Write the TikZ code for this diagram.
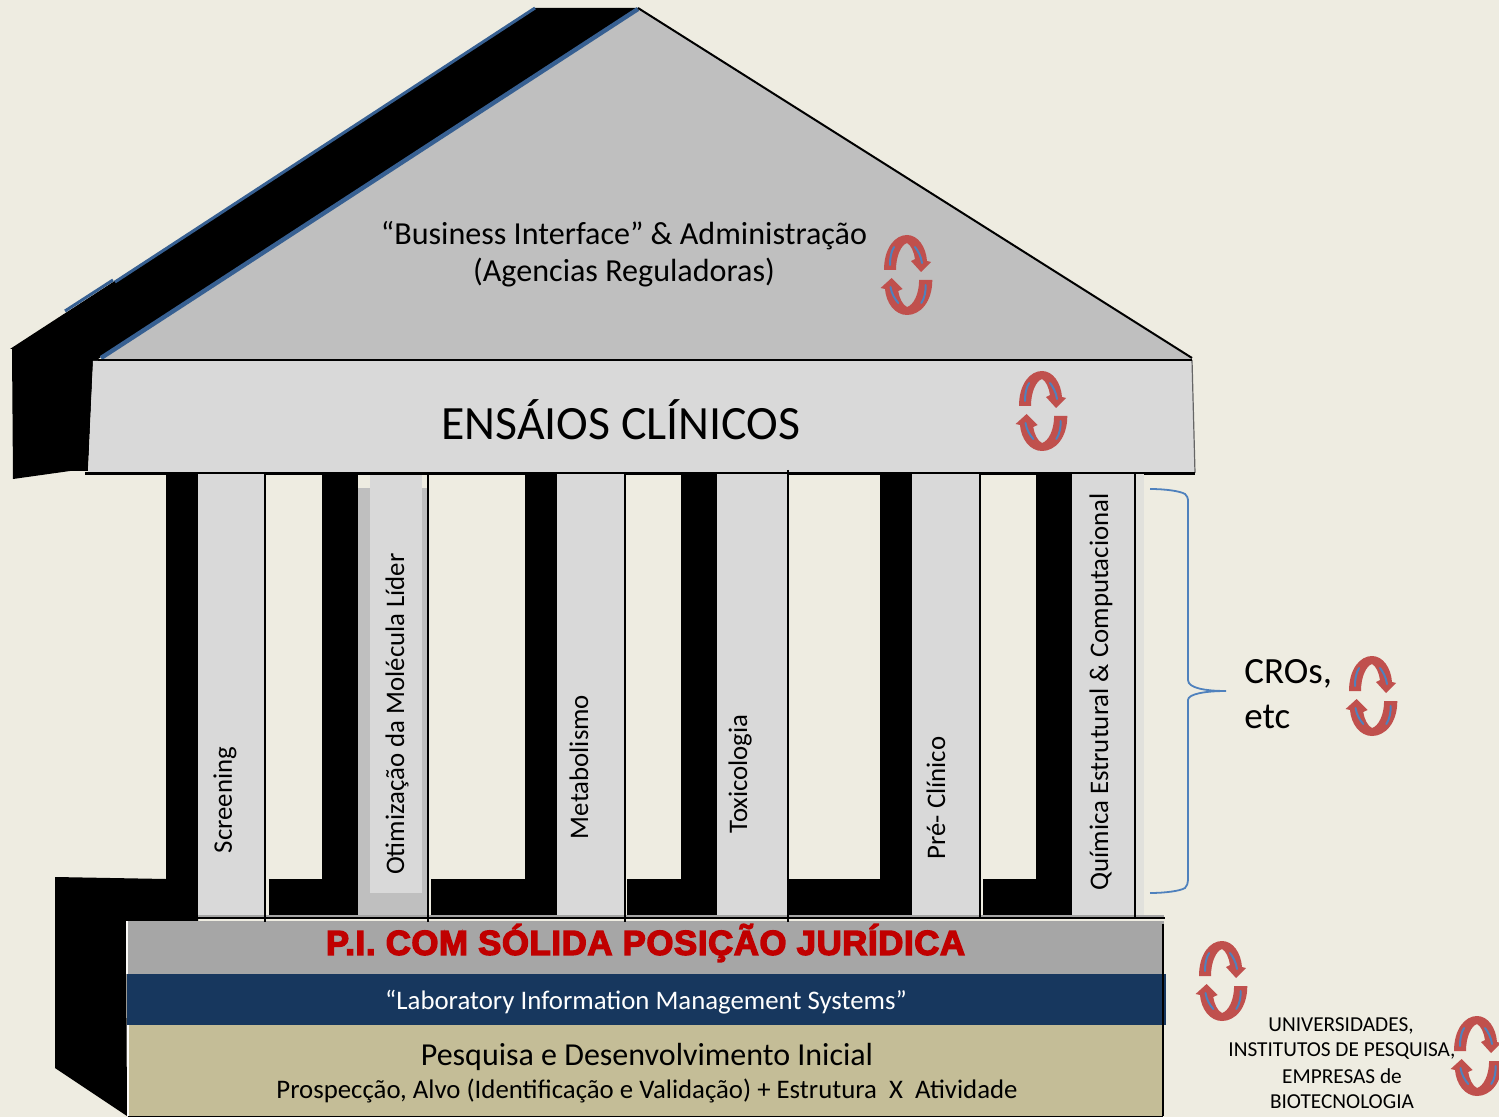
\documentclass[tikz,border=0pt]{standalone}
\usepackage{fontspec}
\setmainfont{Carlito}
\newfontfamily\pifont[FakeBold=4,LetterSpace=2]{Liberation Sans Bold}
\definecolor{bg}{HTML}{EEECE1}
\definecolor{roofgray}{HTML}{BFBFBF}
\definecolor{lightcol}{HTML}{D9D9D9}
\definecolor{midgray}{HTML}{BFBFBF}
\definecolor{band}{HTML}{A6A6A6}
\definecolor{navy}{HTML}{17375E}
\definecolor{tan}{HTML}{C4BD97}
\definecolor{edgeblue}{HTML}{376092}
\definecolor{cyclered}{HTML}{C0504D}
\definecolor{cycleblue}{HTML}{4F81BD}
\definecolor{pired}{HTML}{C00000}
\newcommand{\fs}[1]{\fontsize{#1}{#1}\selectfont}
\tikzset{
 shadow/.style={fill=black,draw=none},
 shaftrule/.style={draw=black,line width=1pt},
 coltext/.style={rotate=90,text=black,inner sep=0pt,font=\fs{13.4}},
 plain/.style={inner sep=0pt,text=black},
 halfarrow/.pic={
   \fill[cyclered] (-23,-6) .. controls (-23,-28) and (-12,-41) .. (0,-41) .. controls (11,-41) and (19,-29) .. (20,-15) -- (24,-14) -- (14,-4) -- (4,-15) -- (8,-17) .. controls (7,-24) and (4,-31) .. (0,-33) .. controls (-6,-31) and (-11,-20) .. (-11,-6) -- cycle;
   \draw[cycleblue,line width=1pt,line cap=round] (-17,-11) .. controls (-17,-18) and (-16,-24) .. (-13,-29);
   \draw[cycleblue,line width=1pt,line cap=round] (8,-29) .. controls (11,-25) and (14,-20) .. (15,-13);
 },
 cyclepair/.pic={
   \pic {halfarrow};
   \pic[rotate=180,xscale=1.1] at (0,-2) {halfarrow};
 }
}
\begin{document}
\begin{tikzpicture}[x=0.5pt,y=-0.5pt]
\useasboundingbox (0,0) rectangle (1499,1117);
\fill[bg] (0,0) rectangle (1499,1117);
% roof
\fill[shadow] (10,349) -- (535,8) -- (638,8) -- (98,359) -- (98,365) -- (93,365) -- (88,471) -- (70,471) -- (13,479) -- (12,349) -- cycle;
\draw[edgeblue,line width=1.5pt] (65,311) -- (113,280);
\draw[edgeblue,line width=1.5pt] (115,282) -- (535,8);
\fill[roofgray] (100,360) -- (638,8) -- (1192,359) -- cycle;
\draw[edgeblue,line width=2.2pt] (101,358) -- (638,9);
\draw[black,line width=1pt] (638,8) -- (1192,358);
% entablature
\fill[lightcol] (93,361) -- (1192,361) -- (1195,473) -- (88,473) -- cycle;
\draw[black!60,line width=0.6pt] (1192,360) -- (1195,473);
\draw[black,line width=1pt] (98,360) -- (1192,360);
\draw[black,line width=1pt] (85,473.5) -- (1195,473.5);
% left base side with first column shadow
\fill[shadow] (55,877) -- (166,879) -- (166,474) -- (198,474) -- (198,921) -- (126,921) -- (127,1116) -- (55,1068) -- cycle;
% column 1
\fill[lightcol] (198,474) rectangle (265,916);
% column 2
\fill[shadow] (322,474) rectangle (358,879);
\fill[shadow] (269,879) rectangle (358,915);
\fill[midgray] (358,488) rectangle (428,916);
\fill[lightcol] (370,475) rectangle (422,893);
% column 3
\fill[shadow] (525,474) rectangle (557,879);
\fill[shadow] (431,879) rectangle (557,915);
\fill[lightcol] (557,474) rectangle (625,916);
% column 4
\fill[shadow] (681,474) rectangle (717,879);
\fill[shadow] (627,879) rectangle (717,915);
\fill[lightcol] (717,474) rectangle (788,916);
% column 5
\fill[shadow] (880,474) rectangle (912,879);
\fill[shadow] (788,879) rectangle (912,915);
\fill[lightcol] (912,474) rectangle (980,916);
% column 6
\fill[shadow] (1036,474) rectangle (1072,879);
\fill[shadow] (983,879) rectangle (1072,915);
\fill[lightcol] (1072,474) rectangle (1135,916);
\fill[lightcol!60!bg] (1135,474) rectangle (1144,916);
% base
\fill[band] (127,921) rectangle (1164,974);
\fill[navy] (127,974) rectangle (1166,1025);
\fill[tan] (129,1025) rectangle (1163,1116);
\fill[white!80!bg] (126,921) rectangle (127.5,974);
\fill[white!80!bg] (127,1025) rectangle (129,1116);
% column rules and base rules
\fill[black!35] (198,915) rectangle (1164,917);
\draw[shaftrule] (198,917.5) -- (1165,917.5);
\draw[shaftrule] (265,474) -- (265,922);
\draw[shaftrule] (428,474) -- (428,922);
\draw[shaftrule] (625,474) -- (625,922);
\draw[shaftrule] (788,470) -- (788,922);
\draw[shaftrule] (980,474) -- (980,918);
\draw[shaftrule] (1135,474) -- (1135,918);
\draw[shaftrule] (1163,924) -- (1163,1116);
\draw[shaftrule] (128,1116.5) -- (1163,1116.5);
% brace
\draw[cycleblue,line width=0.9pt] (1150,489) .. controls (1165,489) and (1180,491) .. (1185,494) .. controls (1187,496) and (1188,498) .. (1188,500) -- (1188,680) .. controls (1188,688) and (1205,691) .. (1226,691) .. controls (1205,691) and (1188,694) .. (1188,700) -- (1188,880) .. controls (1188,883) and (1187,886) .. (1185,888) .. controls (1180,891) and (1165,893) .. (1150,893);
% texts
\node[plain,font=\fs{16.05}] (roofa) at (624,236) {“Business Interface” \& Administração};
\node[plain,font=\fs{16.05}] (roofb) at (624,273) {(Agencias Reguladoras)};
\node[plain,font=\fs{23.9}] (ensaios) at (621,420) {ENSÁIOS CLÍNICOS};
\node[coltext] (c1) at (225,800) {Screening};
\node[coltext] (c2) at (397,714) {Otimização da Molécula Líder};
\node[coltext] (c3) at (579,767) {Metabolismo};
\node[coltext] (c4) at (740,774) {Toxicologia};
\node[coltext] (c5) at (936,798) {Pré- Clínico};
\node[coltext] (c6) at (1101,692) {Química Estrutural \& Computacional};
\node[plain,text=pired,font=\pifont\fs{17.3}] (pi) at (645.5,943) {P.I. COM SÓLIDA POSIÇÃO JURÍDICA};
\node[plain,text=white,font=\fs{13.4}] (lims) at (646,1002) {“Laboratory Information Management Systems”};
\node[plain,font=\fs{16}] (ped) at (647,1057) {Pesquisa e Desenvolvimento Inicial};
\node[plain,font=\fs{13.4}] (prosp) at (647,1091) {Prospecção, Alvo (Identificação e Validação) + Estrutura\ \ X\ \ Atividade};
\node[plain,anchor=west,font=\fs{18.5}] (cros) at (1244,674) {CROs,};
\node[plain,anchor=west,font=\fs{18.5}] (etc) at (1244,717) {etc};
\node[plain,font=\fs{10.65}] (u1) at (1341,1026) {UNIVERSIDADES,};
\node[plain,font=\fs{10.65}] (u2) at (1342,1051) {INSTITUTOS DE PESQUISA,};
\node[plain,font=\fs{10.65}] (u3) at (1342,1076) {EMPRESAS de};
\node[plain,font=\fs{10.65}] (u4) at (1342,1102) {BIOTECNOLOGIA};
% cycles
\pic at (907,276) {cyclepair};
\pic at (1042,412) {cyclepair};
\pic at (1372,697) {cyclepair};
\pic at (1222,982) {cyclepair};
\pic at (1477,1057) {cyclepair};
\end{tikzpicture}
\end{document}
